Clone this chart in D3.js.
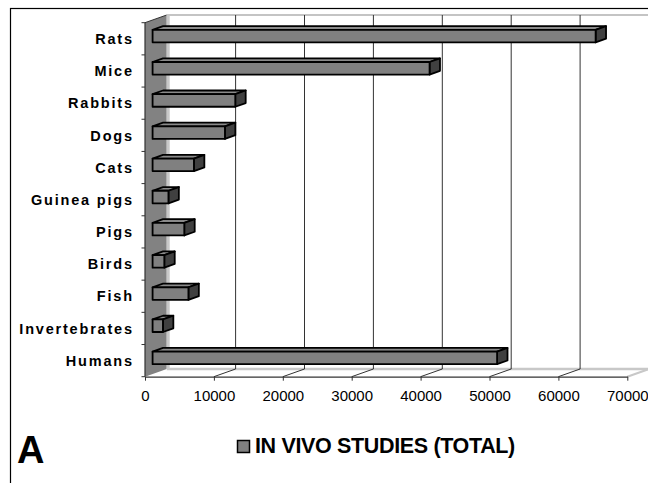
<!DOCTYPE html>
<html>
<head>
<meta charset="utf-8">
<script src="https://cdn.jsdelivr.net/npm/d3@7"></script>
<style>
  html, body { margin: 0; padding: 0; background: #fff; }
  svg { display: block; }
  text { font-family: "Liberation Sans", Arial, Helvetica, sans-serif; }
</style>
</head>
<body>
<svg id="chart" width="648" height="483"></svg>
<script>
// Number of in vivo studies per species
const categories = ["Rats", "Mice", "Rabbits", "Dogs", "Cats", "Guinea pigs", "Pigs", "Birds", "Fish", "Invertebrates", "Humans"];
const studies    = [64300, 40200, 12000, 10500, 6000, 2300, 4600, 1700, 5200, 1500, 50000];
const xTicks     = [0, 10000, 20000, 30000, 40000, 50000, 60000, 70000];
const legendLabel = "IN VIVO STUDIES (TOTAL)";
const panelLabel  = "A";

const data = categories.map((c, i) => ({ name: c, value: studies[i] }));

const svg = d3.select("#chart");

// plot frame (front plane) and 3-D depth vector
const plotLeft = 145, plotRight = 627.3, plotTop = 22.7, plotBottom = 376.7;
const depth = { dx: 21.7, dy: -7.7 };

const x = d3.scaleLinear().domain([0, 70000]).range([plotLeft, plotRight]);
const y = d3.scaleBand().domain(categories).range([plotTop, plotBottom]).padding(0);

// outer border
svg.append("rect")
  .attr("x", 10.5).attr("y", 8.5).attr("width", 700).attr("height", 600)
  .attr("fill", "none").attr("stroke", "#000").attr("stroke-width", 1.2);

// side wall (left, shaded)
svg.append("polygon")
  .attr("points", [[plotLeft, plotTop], [plotLeft + depth.dx, plotTop + depth.dy], [plotLeft + depth.dx, plotBottom + depth.dy], [plotLeft, plotBottom]].join(" "))
  .attr("fill", "#828282");
svg.append("line")
  .attr("x1", plotLeft + depth.dx + 1.5).attr("x2", plotLeft + depth.dx + 1.5)
  .attr("y1", plotTop + depth.dy).attr("y2", plotBottom + depth.dy)
  .attr("stroke", "#c8c8c8").attr("stroke-width", 3);
svg.append("line")
  .attr("x1", plotLeft).attr("y1", plotTop).attr("x2", plotLeft + depth.dx).attr("y2", plotTop + depth.dy)
  .attr("stroke", "#333").attr("stroke-width", 1);

// back wall top edge
svg.append("line")
  .attr("x1", plotLeft + depth.dx).attr("x2", 660)
  .attr("y1", plotTop + depth.dy).attr("y2", plotTop + depth.dy)
  .attr("stroke", "#c4c4c4").attr("stroke-width", 2);

// floor outline
svg.append("line")
  .attr("x1", plotLeft + depth.dx).attr("x2", plotRight + depth.dx)
  .attr("y1", plotBottom + depth.dy).attr("y2", plotBottom + depth.dy)
  .attr("stroke", "#c8c8c8").attr("stroke-width", 2.5);
svg.append("line")
  .attr("x1", plotRight).attr("y1", plotBottom).attr("x2", plotRight + depth.dx).attr("y2", plotBottom + depth.dy)
  .attr("stroke", "#c8c8c8").attr("stroke-width", 2);

// gridlines: floor diagonals and back-wall verticals
const inner = xTicks.filter(t => t > 0 && t < 70000);
svg.append("g").selectAll("line").data(inner).join("line")
  .attr("x1", d => x(d)).attr("y1", plotBottom)
  .attr("x2", d => x(d) + depth.dx).attr("y2", plotBottom + depth.dy)
  .attr("stroke", "#333").attr("stroke-width", 1);
svg.append("g").selectAll("line").data(inner).join("line")
  .attr("x1", d => x(d) + depth.dx).attr("x2", d => x(d) + depth.dx)
  .attr("y1", plotTop + depth.dy).attr("y2", plotBottom + depth.dy)
  .attr("stroke", "#333").attr("stroke-width", 1);

// 3-D bars
const f0 = 0.35, f1 = 0.83;           // bar front/back depth fractions
const barH = y.bandwidth() * 0.39;
const bars = svg.append("g");
data.forEach(d => {
  const ox = depth.dx * f0, oy = depth.dy * f0;
  const ex = depth.dx * (f1 - f0), ey = depth.dy * (f1 - f0);
  const x0 = x(0) + ox, x1 = x(d.value) + ox;
  const cy = y(d.name) + y.bandwidth() / 2 + oy;
  const y0 = cy - barH / 2, y1 = cy + barH / 2;
  const g = bars.append("g")
    .attr("stroke", "#000").attr("stroke-width", 1.8).attr("stroke-linejoin", "round");
  g.append("polygon")
    .attr("points", [[x0, y0], [x0 + ex, y0 + ey], [x1 + ex, y0 + ey], [x1, y0]].join(" "))
    .attr("fill", "#8a8a8a");
  g.append("polygon")
    .attr("points", [[x1, y0], [x1 + ex, y0 + ey], [x1 + ex, y1 + ey], [x1, y1]].join(" "))
    .attr("fill", "#404040");
  g.append("rect")
    .attr("x", x0).attr("y", y0).attr("width", x1 - x0).attr("height", y1 - y0)
    .attr("fill", "#808080");
});

// value axis (front edge of floor)
const xAxis = svg.append("g")
  .attr("transform", `translate(0,${plotBottom})`)
  .call(d3.axisBottom(x).tickValues(xTicks).tickFormat(d3.format("d")).tickSize(4).tickSizeOuter(0).tickPadding(10));
xAxis.select(".domain").attr("stroke", "#333").attr("stroke-width", 1.2);
xAxis.selectAll(".tick line").attr("stroke", "#333");
xAxis.selectAll("text").attr("font-size", 15).attr("fill", "#000")
  .style("font-family", "'Liberation Sans', Arial, sans-serif");

// category axis
svg.append("line")
  .attr("x1", plotLeft).attr("x2", plotLeft).attr("y1", plotTop).attr("y2", plotBottom)
  .attr("stroke", "#333").attr("stroke-width", 1.2);
const bounds = categories.map(c => y(c)).concat([plotBottom]);
svg.append("g").selectAll("line").data(bounds).join("line")
  .attr("x1", plotLeft - 3.5).attr("x2", plotLeft).attr("y1", d => d).attr("y2", d => d)
  .attr("stroke", "#333").attr("stroke-width", 1);

const yAxis = svg.append("g")
  .attr("transform", `translate(${plotLeft},0)`)
  .call(d3.axisLeft(y).tickSize(0).tickPadding(11.2));
yAxis.select(".domain").remove();
yAxis.selectAll("text")
  .attr("font-size", 14.5).attr("font-weight", "bold").attr("fill", "#000")
  .attr("letter-spacing", "1.8px").attr("dy", "0.36em")
  .style("font-family", "'Liberation Sans', Arial, sans-serif");

// legend
const legend = svg.append("g").attr("transform", "translate(237,440)");
legend.append("rect").attr("x", 0.5).attr("y", 0.5).attr("width", 12).attr("height", 12)
  .attr("fill", "#808080").attr("stroke", "#000").attr("stroke-width", 1.5);
legend.append("text").attr("x", 18).attr("y", 13)
  .attr("font-size", 21.5).attr("font-weight", "bold").attr("letter-spacing", "-0.35px")
  .text(legendLabel);

// panel letter
svg.append("text").attr("x", 17).attr("y", 463)
  .attr("font-size", 38).attr("font-weight", "bold").text(panelLabel);
</script>
</body>
</html>
